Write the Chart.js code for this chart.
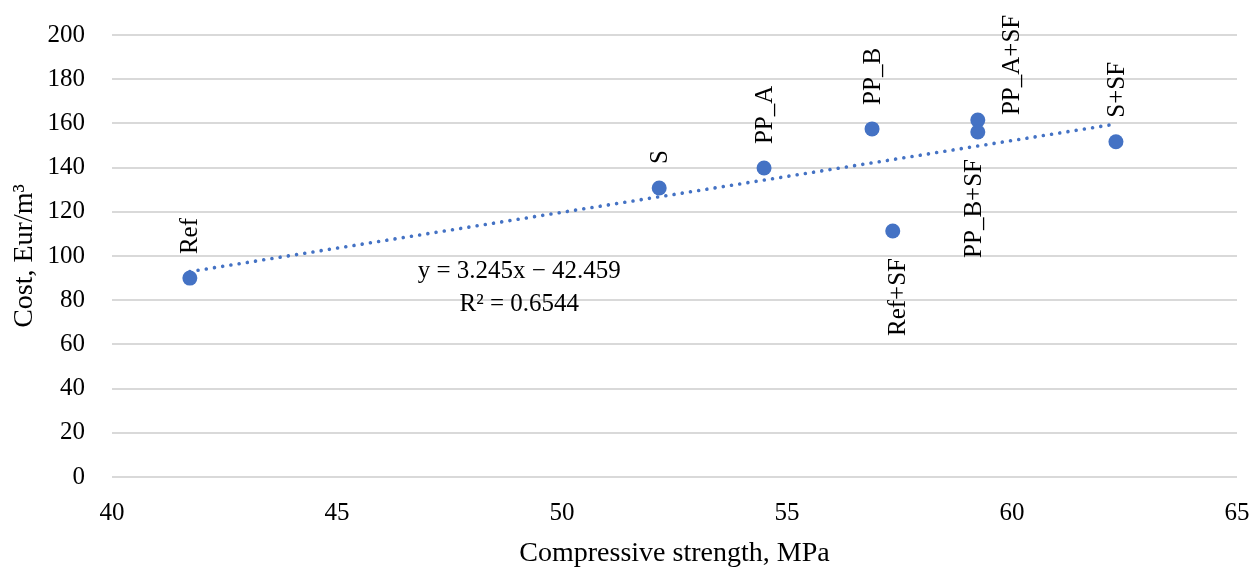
<!DOCTYPE html>
<html>
<head>
<meta charset="utf-8">
<script src="https://cdn.jsdelivr.net/npm/chart.js@4.4.1/dist/chart.umd.min.js"></script>
<style>
  html, body { margin: 0; padding: 0; background: #ffffff; }
  #wrap { width: 1259px; height: 570px; position: relative; }
</style>
</head>
<body>
<div id="wrap"><canvas id="c" width="1259" height="570"></canvas></div>
<script>
// ---- data ----
const mixLabels = ['Ref', 'S', 'PP_A', 'PP_B', 'Ref+SF', 'PP_A+SF', 'PP_B+SF', 'S+SF'];
const strengthMPa = [41.73, 52.16, 54.49, 56.89, 57.35, 59.24, 59.24, 62.31];
const costEurM3 = [90.0, 130.8, 139.8, 157.5, 111.3, 161.5, 156.1, 151.7];
const trendSlope = 3.245;
const trendIntercept = -42.459;
const trendR2 = 0.6544;
const xTicks = [40, 45, 50, 55, 60, 65];
const yTicks = [0, 20, 40, 60, 80, 100, 120, 140, 160, 180, 200];

const BLUE = '#4472C4';
const FONT = '"Liberation Serif", "Times New Roman", serif';

const points = strengthMPa.map((x, i) => ({ x: x, y: costEurM3[i] }));
const xMin = Math.min(...strengthMPa), xMax = Math.max(...strengthMPa);
const trendPoints = [xMin, xMax].map(x => ({ x: x, y: trendSlope * x + trendIntercept }));

// label placement (style only): side and small pixel nudges
const labelPlacement = {
  'Ref+SF': { side: 'below', dx: 5 },
  'PP_B+SF': { side: 'below', dx: -4 },
  'PP_A+SF': { side: 'right', dx: 34, dy: -5 }
};

const pointLabelsPlugin = {
  id: 'pointLabels',
  afterDatasetsDraw(chart) {
    const ctx = chart.ctx;
    const meta = chart.getDatasetMeta(1);
    ctx.save();
    ctx.font = '25px ' + FONT;
    ctx.fillStyle = '#000';
    ctx.textBaseline = 'middle';
    meta.data.forEach((el, i) => {
      const name = mixLabels[i];
      const p = labelPlacement[name] || { side: 'above' };
      const dx = p.dx || 0, dy = p.dy || 0;
      let ax = el.x + 1 + dx, ay, align;
      if (p.side === 'below') { ay = el.y + 27 + dy; align = 'right'; }
      else if (p.side === 'right') { ay = el.y + dy; align = 'left'; }
      else { ay = el.y - 24 + dy; align = 'left'; }
      ctx.save();
      ctx.translate(ax, ay);
      ctx.rotate(-Math.PI / 2);
      ctx.textAlign = align;
      ctx.fillText(name, 0, 0);
      ctx.restore();
    });
    // trendline equation
    const xs = chart.scales.x, ys = chart.scales.y;
    const ex = xs.getPixelForValue(49.05);
    const ey = ys.getPixelForValue(93.0);
    ctx.textAlign = 'center';
    ctx.fillText('y = ' + trendSlope.toFixed(3) + 'x \u2212 ' + Math.abs(trendIntercept).toFixed(3), ex, ey);
    ctx.fillText('R\u00B2 = ' + trendR2.toFixed(4), ex, ey + 33);
    ctx.restore();
  }
};

new Chart(document.getElementById('c'), {
  type: 'scatter',
  data: {
    datasets: [
      {
        type: 'line',
        label: 'Trend',
        data: trendPoints,
        borderColor: BLUE,
        borderWidth: 3.6,
        borderDash: [0.01, 8.3],
        borderCapStyle: 'round',
        pointRadius: 0,
        fill: false,
        tension: 0,
        order: 2
      },
      {
        label: 'Cost',
        data: points,
        backgroundColor: BLUE,
        borderColor: BLUE,
        pointRadius: 7.5,
        pointHoverRadius: 7.5,
        borderWidth: 0,
        order: 1
      }
    ]
  },
  options: {
    responsive: false,
    animation: false,
    events: [],
    layout: { padding: { top: 35, right: 22, left: 0, bottom: 0 } },
    plugins: {
      legend: { display: false },
      tooltip: { enabled: false }
    },
    scales: {
      x: {
        type: 'linear',
        min: xTicks[0],
        max: xTicks[xTicks.length - 1],
        afterBuildTicks(axis) { axis.ticks = xTicks.map(v => ({ value: v })); },
        afterFit(axis) { axis.height = 93; axis.paddingLeft = 0; axis.paddingRight = 0; },
        grid: { display: false, drawTicks: false },
        border: { display: false },
        ticks: { padding: 21, color: '#000', font: { family: FONT, size: 25 } },
        title: {
          display: true,
          text: 'Compressive strength, MPa',
          color: '#000',
          font: { family: FONT, size: 28 },
          padding: { top: 0, bottom: 0 }
        }
      },
      y: {
        type: 'linear',
        min: yTicks[0],
        max: yTicks[yTicks.length - 1],
        afterBuildTicks(axis) { axis.ticks = yTicks.map(v => ({ value: v })); },
        afterFit(axis) { axis.width = 112; axis.paddingTop = 0; axis.paddingBottom = 0; },
        grid: { color: '#d9d9d9', lineWidth: 2, drawTicks: false },
        border: { display: false },
        ticks: { padding: 27, color: '#000', font: { family: FONT, size: 25 } },
        title: {
          display: true,
          text: 'Cost, Eur/m\u00B3',
          color: '#000',
          font: { family: FONT, size: 28 },
          padding: { top: 8, bottom: 0 }
        }
      }
    }
  },
  plugins: [pointLabelsPlugin]
});
</script>
</body>
</html>
